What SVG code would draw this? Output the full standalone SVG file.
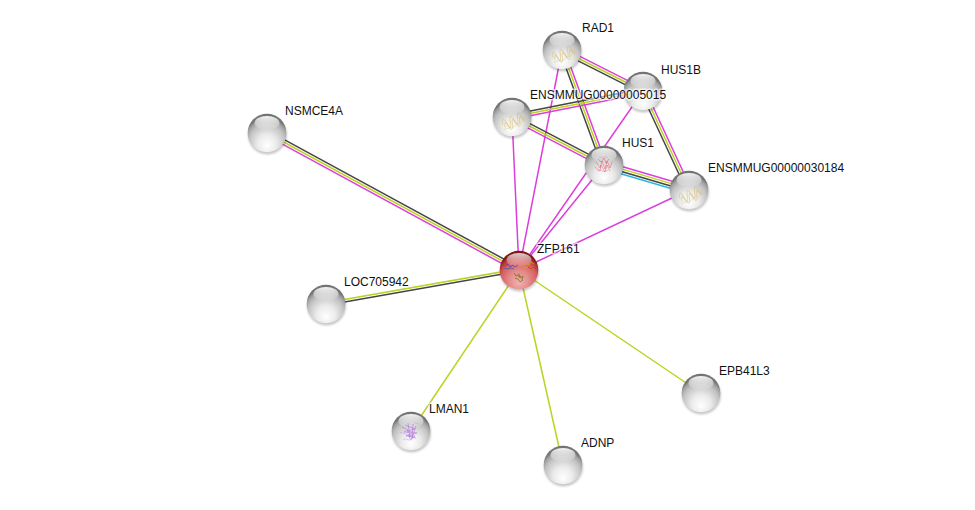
<svg xmlns="http://www.w3.org/2000/svg" xmlns:xlink="http://www.w3.org/1999/xlink" width="975" height="510" viewBox="0 0 975 510">
<defs>
<radialGradient id="gGrey" cx="0.5" cy="0.72" r="0.62" fx="0.5" fy="0.84">
<stop offset="0" stop-color="#ffffff"/>
<stop offset="0.4" stop-color="#ebebeb"/>
<stop offset="0.75" stop-color="#c3c3c3"/>
<stop offset="0.9" stop-color="#a2a2a2"/>
<stop offset="1" stop-color="#747474"/>
</radialGradient>
<radialGradient id="gRed" cx="0.5" cy="0.72" r="0.62" fx="0.5" fy="0.84">
<stop offset="0" stop-color="#f4b0b0"/>
<stop offset="0.4" stop-color="#e68c8c"/>
<stop offset="0.75" stop-color="#d46060"/>
<stop offset="0.9" stop-color="#b43838"/>
<stop offset="1" stop-color="#7e1a1a"/>
</radialGradient>
<linearGradient id="gHi" x1="0" y1="0" x2="0" y2="1">
<stop offset="0" stop-color="#ffffff" stop-opacity="0.95"/>
<stop offset="1" stop-color="#ffffff" stop-opacity="0.05"/>
</linearGradient>
<filter id="blur" x="-50%" y="-50%" width="200%" height="200%">
<feGaussianBlur stdDeviation="1.3"/>
</filter>
<g id="ballGrey">
<circle cx="0.5" cy="2" r="19.5" fill="#000" opacity="0.22" filter="url(#blur)"/>
<circle r="19.3" fill="url(#gGrey)"/>
<ellipse cx="0" cy="-10" rx="12.5" ry="7" fill="url(#gHi)"/>
</g>
<g id="ballRed">
<circle cx="0.5" cy="2" r="19.5" fill="#000" opacity="0.22" filter="url(#blur)"/>
<circle r="19.3" fill="url(#gRed)"/>
<ellipse cx="0" cy="-10" rx="12.5" ry="7" fill="url(#gHi)" opacity="0.85"/>
</g>
<g id="helixY" fill="none" stroke="#d8bf6e" stroke-width="0.55">
<path d="M-11,3 c1.5,-7 3.5,-7 4,0 c0.5,7 2.5,7 4,0 c1.5,-7 3.5,-7 4,0 c0.5,7 2.5,7 4,0 c1.5,-7 3.5,-7 4,0 c0.5,6 2.5,6 3,0" transform="rotate(-22)"/>
<path d="M-10,6 c1.5,-6 3.5,-6 4,0 c0.5,6 2.5,6 4,0 c1.5,-6 3.5,-6 4,0 c0.5,6 2.5,6 4,0 c1.5,-6 3.5,-6 4,0" transform="rotate(-22)" stroke="#cfae55" opacity="0.75"/>
<path d="M-12,8 c4,-2 8,3 12,0 c3,-2 6,1 9,-1" transform="rotate(-22)" stroke="#e2d39a"/>
</g>
</defs>
<style>
.e{fill:none;stroke-width:1.5;stroke-linecap:round}
.m{stroke:#dc3edc}
.y{stroke:#bdd222}
.k{stroke:#454545}
.c{stroke:#2db6e2}
.lbl{font-family:"Liberation Sans",Arial,sans-serif;font-size:12px;fill:#111;stroke:#fff;stroke-width:3;stroke-opacity:0.6;paint-order:stroke;stroke-linejoin:round}
</style>
<rect width="975" height="510" fill="#ffffff"/>
<g id="edges">
<line class="e k" x1="268.15" y1="130.89" x2="520.15" y2="267.89"/>
<line class="e y" x1="267" y1="133" x2="519" y2="270"/>
<line class="e m" x1="265.85" y1="135.11" x2="517.85" y2="272.11"/>
<line class="e y" x1="325.79" y1="302.82" x2="518.79" y2="268.82"/>
<line class="e k" x1="326.21" y1="305.18" x2="519.21" y2="271.18"/>
<line class="e y" x1="519" y1="270" x2="411" y2="431"/>
<line class="e y" x1="519" y1="270" x2="563" y2="465"/>
<line class="e y" x1="519" y1="270" x2="701" y2="393"/>
<line class="e m" x1="519" y1="270" x2="512" y2="117"/>
<line class="e m" x1="519" y1="270" x2="562" y2="50"/>
<line class="e m" x1="519" y1="270" x2="604" y2="165"/>
<line class="e m" x1="519" y1="270" x2="643" y2="91"/>
<line class="e m" x1="519" y1="270" x2="689" y2="190"/>
<line class="e m" x1="563.09" y1="47.86" x2="644.09" y2="88.86"/>
<line class="e y" x1="562" y1="50" x2="643" y2="91"/>
<line class="e k" x1="560.91" y1="52.14" x2="641.91" y2="93.14"/>
<line class="e k" x1="559.74" y1="50.8" x2="601.74" y2="165.8"/>
<line class="e y" x1="562" y1="50" x2="604" y2="165"/>
<line class="e m" x1="564.26" y1="49.2" x2="606.26" y2="164.2"/>
<line class="e k" x1="511.53" y1="114.65" x2="642.53" y2="88.65"/>
<line class="e y" x1="512" y1="117" x2="643" y2="91"/>
<line class="e m" x1="512.47" y1="119.35" x2="643.47" y2="93.35"/>
<line class="e k" x1="513.13" y1="114.88" x2="605.13" y2="162.88"/>
<line class="e y" x1="512" y1="117" x2="604" y2="165"/>
<line class="e m" x1="510.87" y1="119.12" x2="602.87" y2="167.12"/>
<line class="e m" x1="604.98" y1="161.54" x2="689.98" y2="186.54"/>
<line class="e y" x1="604.33" y1="163.85" x2="689.33" y2="188.85"/>
<line class="e k" x1="603.67" y1="166.16" x2="688.67" y2="191.16"/>
<line class="e c" x1="603.02" y1="168.47" x2="688.02" y2="193.47"/>
<line class="e k" x1="640.82" y1="92.01" x2="686.82" y2="191.01"/>
<line class="e y" x1="643" y1="91" x2="689" y2="190"/>
<line class="e m" x1="645.18" y1="89.99" x2="691.18" y2="188.99"/>
</g>
<g id="node-NSMCE4A" transform="translate(267,133)">
<use xlink:href="#ballGrey" href="#ballGrey"/>
<text class="lbl" x="18" y="-18">NSMCE4A</text>
</g>
<g id="node-LOC705942" transform="translate(326,304)">
<use xlink:href="#ballGrey" href="#ballGrey"/>
<text class="lbl" x="18" y="-18">LOC705942</text>
</g>
<g id="node-LMAN1" transform="translate(411,431)">
<use xlink:href="#ballGrey" href="#ballGrey"/>
<g fill="none" stroke="#a45fd6" stroke-width="0.55" opacity="0.9">
<path d="M-9,-4 l6,3 l-4,2 l8,1 l-6,3 l9,0 l-5,4 M-6,-6 l10,4 l-8,2 l10,2 l-9,3 l8,2 M-3,-8 l2,16 M2,-7 l-1,15 M5,-5 l-4,12"/>
<path d="M-11,2 c3,-2 5,3 8,1 M-8,9 c3,-3 6,2 9,-1 M3,-9 c2,3 4,0 5,3" stroke="#c29ae6"/>
</g>
<text class="lbl" x="18" y="-18">LMAN1</text>
</g>
<g id="node-ADNP" transform="translate(563,465)">
<use xlink:href="#ballGrey" href="#ballGrey"/>
<text class="lbl" x="18" y="-18">ADNP</text>
</g>
<g id="node-EPB41L3" transform="translate(701,393)">
<use xlink:href="#ballGrey" href="#ballGrey"/>
<text class="lbl" x="18" y="-18">EPB41L3</text>
</g>
<g id="node-HUS1B" transform="translate(643,91)">
<use xlink:href="#ballGrey" href="#ballGrey"/>
<text class="lbl" x="18" y="-17">HUS1B</text>
</g>
<g id="node-RAD1" transform="translate(562,50)">
<use xlink:href="#ballGrey" href="#ballGrey"/>
<use xlink:href="#helixY" href="#helixY" transform="translate(0,1)"/>
<text class="lbl" x="20" y="-18">RAD1</text>
</g>
<g id="node-ENSMMUG00000030184" transform="translate(689,190)">
<use xlink:href="#ballGrey" href="#ballGrey"/>
<use xlink:href="#helixY" href="#helixY" transform="translate(0,2)"/>
<text class="lbl" x="19" y="-18">ENSMMUG00000030184</text>
</g>
<g id="node-HUS1" transform="translate(604,165)">
<use xlink:href="#ballGrey" href="#ballGrey"/>
<g fill="none" stroke="#e0606c" stroke-width="0.55">
<path d="M-8,-3 l4,6 l2,-7 l3,8 l2,-8 l3,7 l2,-6 M-9,2 l5,4 l1,-6 l4,7 l2,-7 l3,6 M-6,-6 l3,3 l3,-4 l2,5 l3,-4"/>
<path d="M-7,6 c3,-3 7,3 11,-1 M-5,-8 c3,2 6,-2 9,1" stroke="#eb8f98"/>
</g>
<text class="lbl" x="18" y="-18">HUS1</text>
</g>
<g id="node-ENSMMUG00000005015" transform="translate(512,117)">
<use xlink:href="#ballGrey" href="#ballGrey"/>
<use xlink:href="#helixY" href="#helixY" transform="translate(0,1)"/>
<text class="lbl" x="18" y="-18">ENSMMUG00000005015</text>
</g>
<g id="node-ZFP161" transform="translate(519,270)">
<use xlink:href="#ballRed" href="#ballRed"/>
<g fill="none" stroke-width="0.8">
<path d="M-14,-4 l3,-2 l2,3 l3,-2 l2,2 l3,-2" stroke="#6a3a9a"/>
<path d="M-15,-2 l4,1 l3,-1 l3,1" stroke="#3a5ab0"/>
<path d="M4,-4 l3,-3 l3,2 l2,-3 l3,2 M5,-2 l4,-1 l3,2 l4,-2" stroke="#e0a020"/>
<path d="M9,-3 l3,2 l3,-2 l2,2" stroke="#d02020"/>
<path d="M-5,3 l2,3 l3,-2 l1,4 l3,-2 l-1,4 M-4,8 l3,1 l2,3 l3,-2" stroke="#6a7a20"/>
<path d="M-2,5 l2,2 l2,-1" stroke="#b06020"/>
</g>
<text class="lbl" x="18" y="-17">ZFP161</text>
</g>
</svg>
